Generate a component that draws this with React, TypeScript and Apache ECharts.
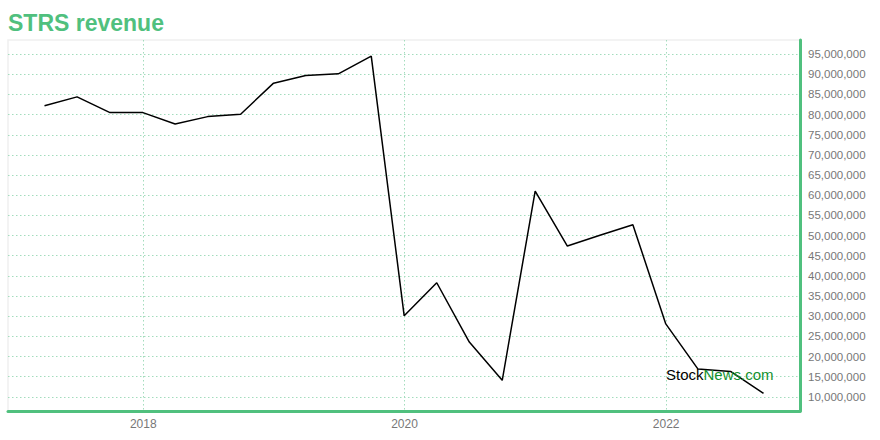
import React, { useEffect, useRef } from "react";
import * as echarts from "echarts";

const dates: string[] = [
  "2017-03-31", "2017-06-30", "2017-09-30", "2017-12-31",
  "2018-03-31", "2018-06-30", "2018-09-30", "2018-12-31",
  "2019-03-31", "2019-06-30", "2019-09-30", "2019-12-31",
  "2020-03-31", "2020-06-30", "2020-09-30", "2020-12-31",
  "2021-03-31", "2021-06-30", "2021-09-30", "2021-12-31",
  "2022-03-31", "2022-06-30", "2022-09-30",
];

const revenue: number[] = [
  82200000, 84400000, 80500000, 80500000,
  77650000, 79500000, 80100000, 87800000,
  89700000, 90100000, 94500000, 30100000,
  38300000, 23600000, 14100000, 61050000,
  47400000, 50100000, 52700000, 28100000,
  16900000, 16300000, 10900000,
];

const yTicks: number[] = [
  10000000, 15000000, 20000000, 25000000, 30000000, 35000000, 40000000,
  45000000, 50000000, 55000000, 60000000, 65000000, 70000000, 75000000,
  80000000, 85000000, 90000000, 95000000,
];

const xTicks: string[] = ["2018-01-01", "2020-01-01", "2022-01-01"];

const xMin = "2016-12-19";
const xMax = "2023-01-10";
const yMin = 6500000;
const yMax = 98500000;

const GREEN = "#50c07e";
const GRID_GREEN = "#a3dcbd";

export default function App() {
  const ref = useRef<HTMLDivElement>(null);
  useEffect(() => {
    if (!ref.current) return;
    const chart = echarts.init(ref.current, undefined, { renderer: "svg" });
    const ts = (d: string) => new Date(d + "T00:00:00Z").getTime();
    chart.setOption({
      animation: false,
      title: {
        text: "STRS revenue",
        left: 8,
        top: 11,
        padding: 0,
        textStyle: {
          color: GREEN,
          fontSize: 23,
          fontWeight: "bold",
          fontFamily: "Liberation Sans, Arial, sans-serif",
        },
      },
      grid: {
        left: 8,
        right: 80,
        top: 40,
        bottom: 29,
        show: true,
        borderColor: "#f0f0f0",
        borderWidth: 1.5,
        backgroundColor: "transparent",
      },
      xAxis: {
        type: "value",
        min: ts(xMin),
        max: ts(xMax),
        axisLine: { show: true, onZero: false, lineStyle: { color: GREEN, width: 3 } },
        axisTick: { show: false, customValues: xTicks.map(ts) },
        axisLabel: {
          customValues: xTicks.map(ts),
          formatter: (v: number) => String(new Date(v).getUTCFullYear()),
          color: "#777777",
          fontSize: 12,
          margin: 7,
          fontFamily: "Liberation Sans, Arial, sans-serif",
        },
        splitLine: {
          show: true,
          lineStyle: { color: GRID_GREEN, type: [1.5, 2.5], width: 1 },
        },
      },
      yAxis: {
        type: "value",
        position: "right",
        min: yMin,
        max: yMax,
        axisLine: { show: true, onZero: false, lineStyle: { color: GREEN, width: 3 } },
        axisTick: { show: false, customValues: yTicks },
        axisLabel: {
          customValues: yTicks,
          formatter: (v: number) => v.toLocaleString("en-US"),
          color: "#777777",
          fontSize: 11.5,
          margin: 8,
          fontFamily: "Liberation Sans, Arial, sans-serif",
        },
        splitLine: {
          show: true,
          lineStyle: { color: GRID_GREEN, type: [1.5, 2.5], width: 1 },
        },
      },
      graphic: [
        {
          type: "text",
          x: 666,
          y: 374,
          z: 100,
          style: {
            text: "{a|Stock}{b|News.com}",
            verticalAlign: "middle",
            rich: {
              a: {
                fill: "#000000",
                fontSize: 15,
                fontFamily: "Liberation Sans, Arial, sans-serif",
              },
              b: {
                fill: "#13912f",
                fontSize: 15,
                fontFamily: "Liberation Sans, Arial, sans-serif",
              },
            },
          },
        },
      ],
      series: [
        {
          type: "line",
          data: dates.map((d, i) => [ts(d), revenue[i]]),
          showSymbol: false,
          symbol: "none",
          lineStyle: { color: "#000000", width: 1.5 },
          itemStyle: { color: "#000000" },
        },
      ],
    });
    return () => chart.dispose();
  }, []);
  return <div ref={ref} style={{ width: 880, height: 440, position: "absolute", left: 0, top: 0 }} />;
}
